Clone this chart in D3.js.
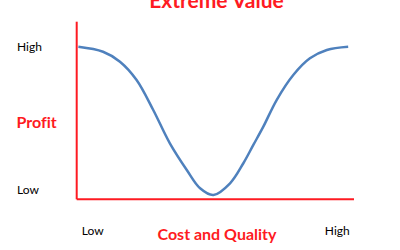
<!DOCTYPE html>
<html>
<head>
<meta charset="utf-8">
<script src="https://cdn.jsdelivr.net/npm/d3@7"></script>
<style>
  body { margin: 0; background: #fff; }
  text { font-family: Lato, "Open Sans", sans-serif; font-variant-ligatures: none; }
</style>
</head>
<body>
<div id="chart"></div>
<script>
// Données (échelle 0-100 sur chaque axe)
var costQuality = [0.6, 9.5, 15.6, 21.6, 27.6, 33.6, 39.7, 44.5, 49.3, 55.3, 60.1, 63.7, 67.3, 72.1, 78.1, 84.1, 90.2, 97.9];
var profit      = [85.9, 83.1, 77.5, 67.2, 50.3, 31.5, 16.5, 6.2, 2.4, 9.0, 20.3, 30.6, 40.9, 55.9, 70.0, 79.4, 84.1, 85.9];

var yTickValues = [5.2, 85.9];
var yTickLabels = ["Low", "High"];
var xTickValues = [5.6, 93.8];
var xTickLabels = ["Low", "High"];

var title = "Extreme Value";
var yTitle = "Profit";
var xTitle = "Cost and Quality";

var width = 400, height = 250;
var red = "#fe1a22", blue = "#4f81bd";

var svg = d3.select("#chart")
  .append("svg")
    .attr("width", width)
    .attr("height", height);

// Echelles
var x = d3.scaleLinear().domain([0, 100]).range([76.7, 354]);
var y = d3.scaleLinear().domain([0, 100]).range([199.3, 21.7]);

var data = costQuality.map(function(d, i) { return {x: d, y: profit[i]}; });

// Titre (coupé en haut comme sur l'original)
svg.append("text")
  .attr("x", 216.5)
  .attr("y", 7.5)
  .attr("text-anchor", "middle")
  .style("font-size", "21px")
  .style("font-weight", "bold")
  .style("fill", red)
  .text(title);

// Axe Y (étiquettes seulement)
var yAxis = svg.append("g")
  .attr("transform", "translate(17,0)")
  .call(d3.axisLeft(y).tickValues(yTickValues).tickSize(0).tickPadding(0)
    .tickFormat(function(d, i) { return yTickLabels[i]; }));
yAxis.select(".domain").remove();
yAxis.selectAll("text")
  .attr("x", 0)
  .attr("text-anchor", "start")
  .style("font-family", "Lato, sans-serif")
  .style("font-size", "12px")
  .style("fill", "#000");

// Axe X (étiquettes seulement)
var xAxis = svg.append("g")
  .attr("transform", "translate(0,226.5)")
  .call(d3.axisBottom(x).tickValues(xTickValues).tickSize(0).tickPadding(0)
    .tickFormat(function(d, i) { return xTickLabels[i]; }));
xAxis.select(".domain").remove();
xAxis.selectAll("text")
  .style("font-family", "Lato, sans-serif")
  .style("font-size", "12px")
  .style("fill", "#000");

// Titres des axes
svg.append("text")
  .attr("x", 16.5)
  .attr("y", 128)
  .style("font-size", "16px")
  .style("font-weight", "bold")
  .style("fill", red)
  .text(yTitle);

svg.append("text")
  .attr("x", 217)
  .attr("y", 240)
  .attr("text-anchor", "middle")
  .style("font-size", "16px")
  .style("font-weight", "bold")
  .style("fill", red)
  .text(xTitle);

// Lignes des axes en rouge
svg.append("line")
  .attr("x1", x(0)).attr("x2", x(0))
  .attr("y1", y(0)).attr("y2", y(100))
  .attr("stroke", red)
  .attr("stroke-width", 2);

svg.append("line")
  .attr("x1", x(0)).attr("x2", x(100))
  .attr("y1", y(0)).attr("y2", y(0))
  .attr("stroke", red)
  .attr("stroke-width", 2);

// Courbe
svg.append("path")
  .datum(data)
  .attr("d", d3.line()
    .x(function(d) { return x(d.x); })
    .y(function(d) { return y(d.y); })
    .curve(d3.curveCatmullRom))
  .attr("fill", "none")
  .attr("stroke", blue)
  .attr("stroke-width", 2.5);
</script>
</body>
</html>
